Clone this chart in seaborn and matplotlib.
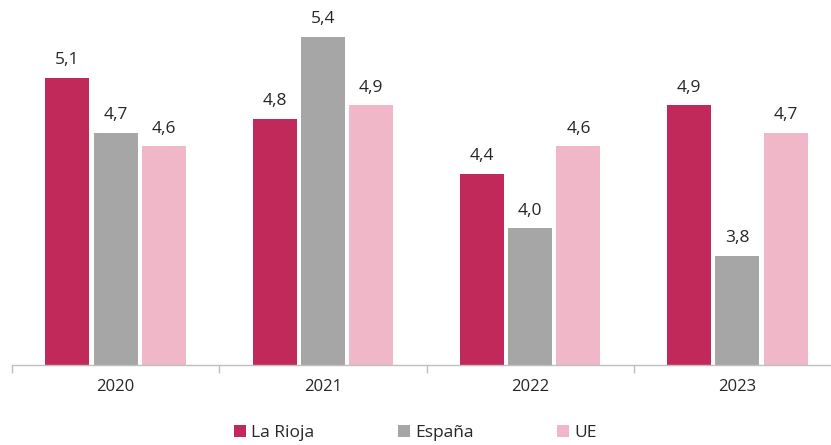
import pandas as pd
import matplotlib
matplotlib.use("Agg")
import matplotlib.pyplot as plt
import seaborn as sns

years = ["2020", "2021", "2022", "2023"]
series = ["La Rioja", "España", "UE"]
la_rioja = [5.1, 4.8, 4.4, 4.9]
espana = [4.7, 5.4, 4.0, 3.8]
ue = [4.6, 4.9, 4.6, 4.7]
colors = ["#C0295A", "#A6A6A6", "#F0B7C8"]

df = pd.DataFrame({
    "year": years * 3,
    "serie": [s for s in series for _ in years],
    "valor": la_rioja + espana + ue,
})

sns.set_style("white")
plt.rcParams["font.family"] = ["Open Sans", "DejaVu Sans"]

fig = plt.figure(figsize=(8.31, 4.45), dpi=100)
# the original chart is cut off on the right, so the axes run past the edge
ax = fig.add_axes([12 / 831, 80 / 445, 829 / 831, 354 / 445])

sns.barplot(data=df, x="year", y="valor", hue="serie", palette=colors,
            width=0.70, gap=0.09, linewidth=0, ax=ax, legend=True, saturation=1)

# value labels with decimal comma
for cont in ax.containers:
    ax.bar_label(cont, labels=[f"{v:.1f}".replace(".", ",") for v in cont.datavalues],
                 padding=7, fontsize=12.5, color="#262626")

ax.set_ylim(3, 5.59)
ax.set_xlim(-0.5, 3.5)
ax.set_yticks([])
ax.set_xlabel("")
ax.set_ylabel("")

for s in ["top", "right", "left"]:
    ax.spines[s].set_visible(False)
ax.spines["bottom"].set_color("#BFBFBF")
ax.spines["bottom"].set_linewidth(1)

# ticks at group boundaries, labels in the middle
ax.set_xticks([-0.5, 0.5, 1.5, 2.5, 3.5])
ax.set_xticklabels([])
ax.set_xticks(range(len(years)), minor=True)
ax.set_xticklabels(years, minor=True, fontsize=12, color="#262626")
ax.tick_params(axis="x", which="major", bottom=True, length=6, color="#BFBFBF", width=1)
ax.tick_params(axis="x", which="minor", bottom=True, length=0, pad=10)

ax.get_legend().remove()
handles, labels = ax.get_legend_handles_labels()
fig.legend(handles, labels, loc="center", bbox_to_anchor=(0.5, 12 / 445),
           ncol=3, frameon=False, fontsize=12.5, handlelength=0.7, handleheight=0.7,
           handletextpad=0.3, columnspacing=4.8, labelcolor="#262626")

fig.savefig("out.png", dpi=100)
